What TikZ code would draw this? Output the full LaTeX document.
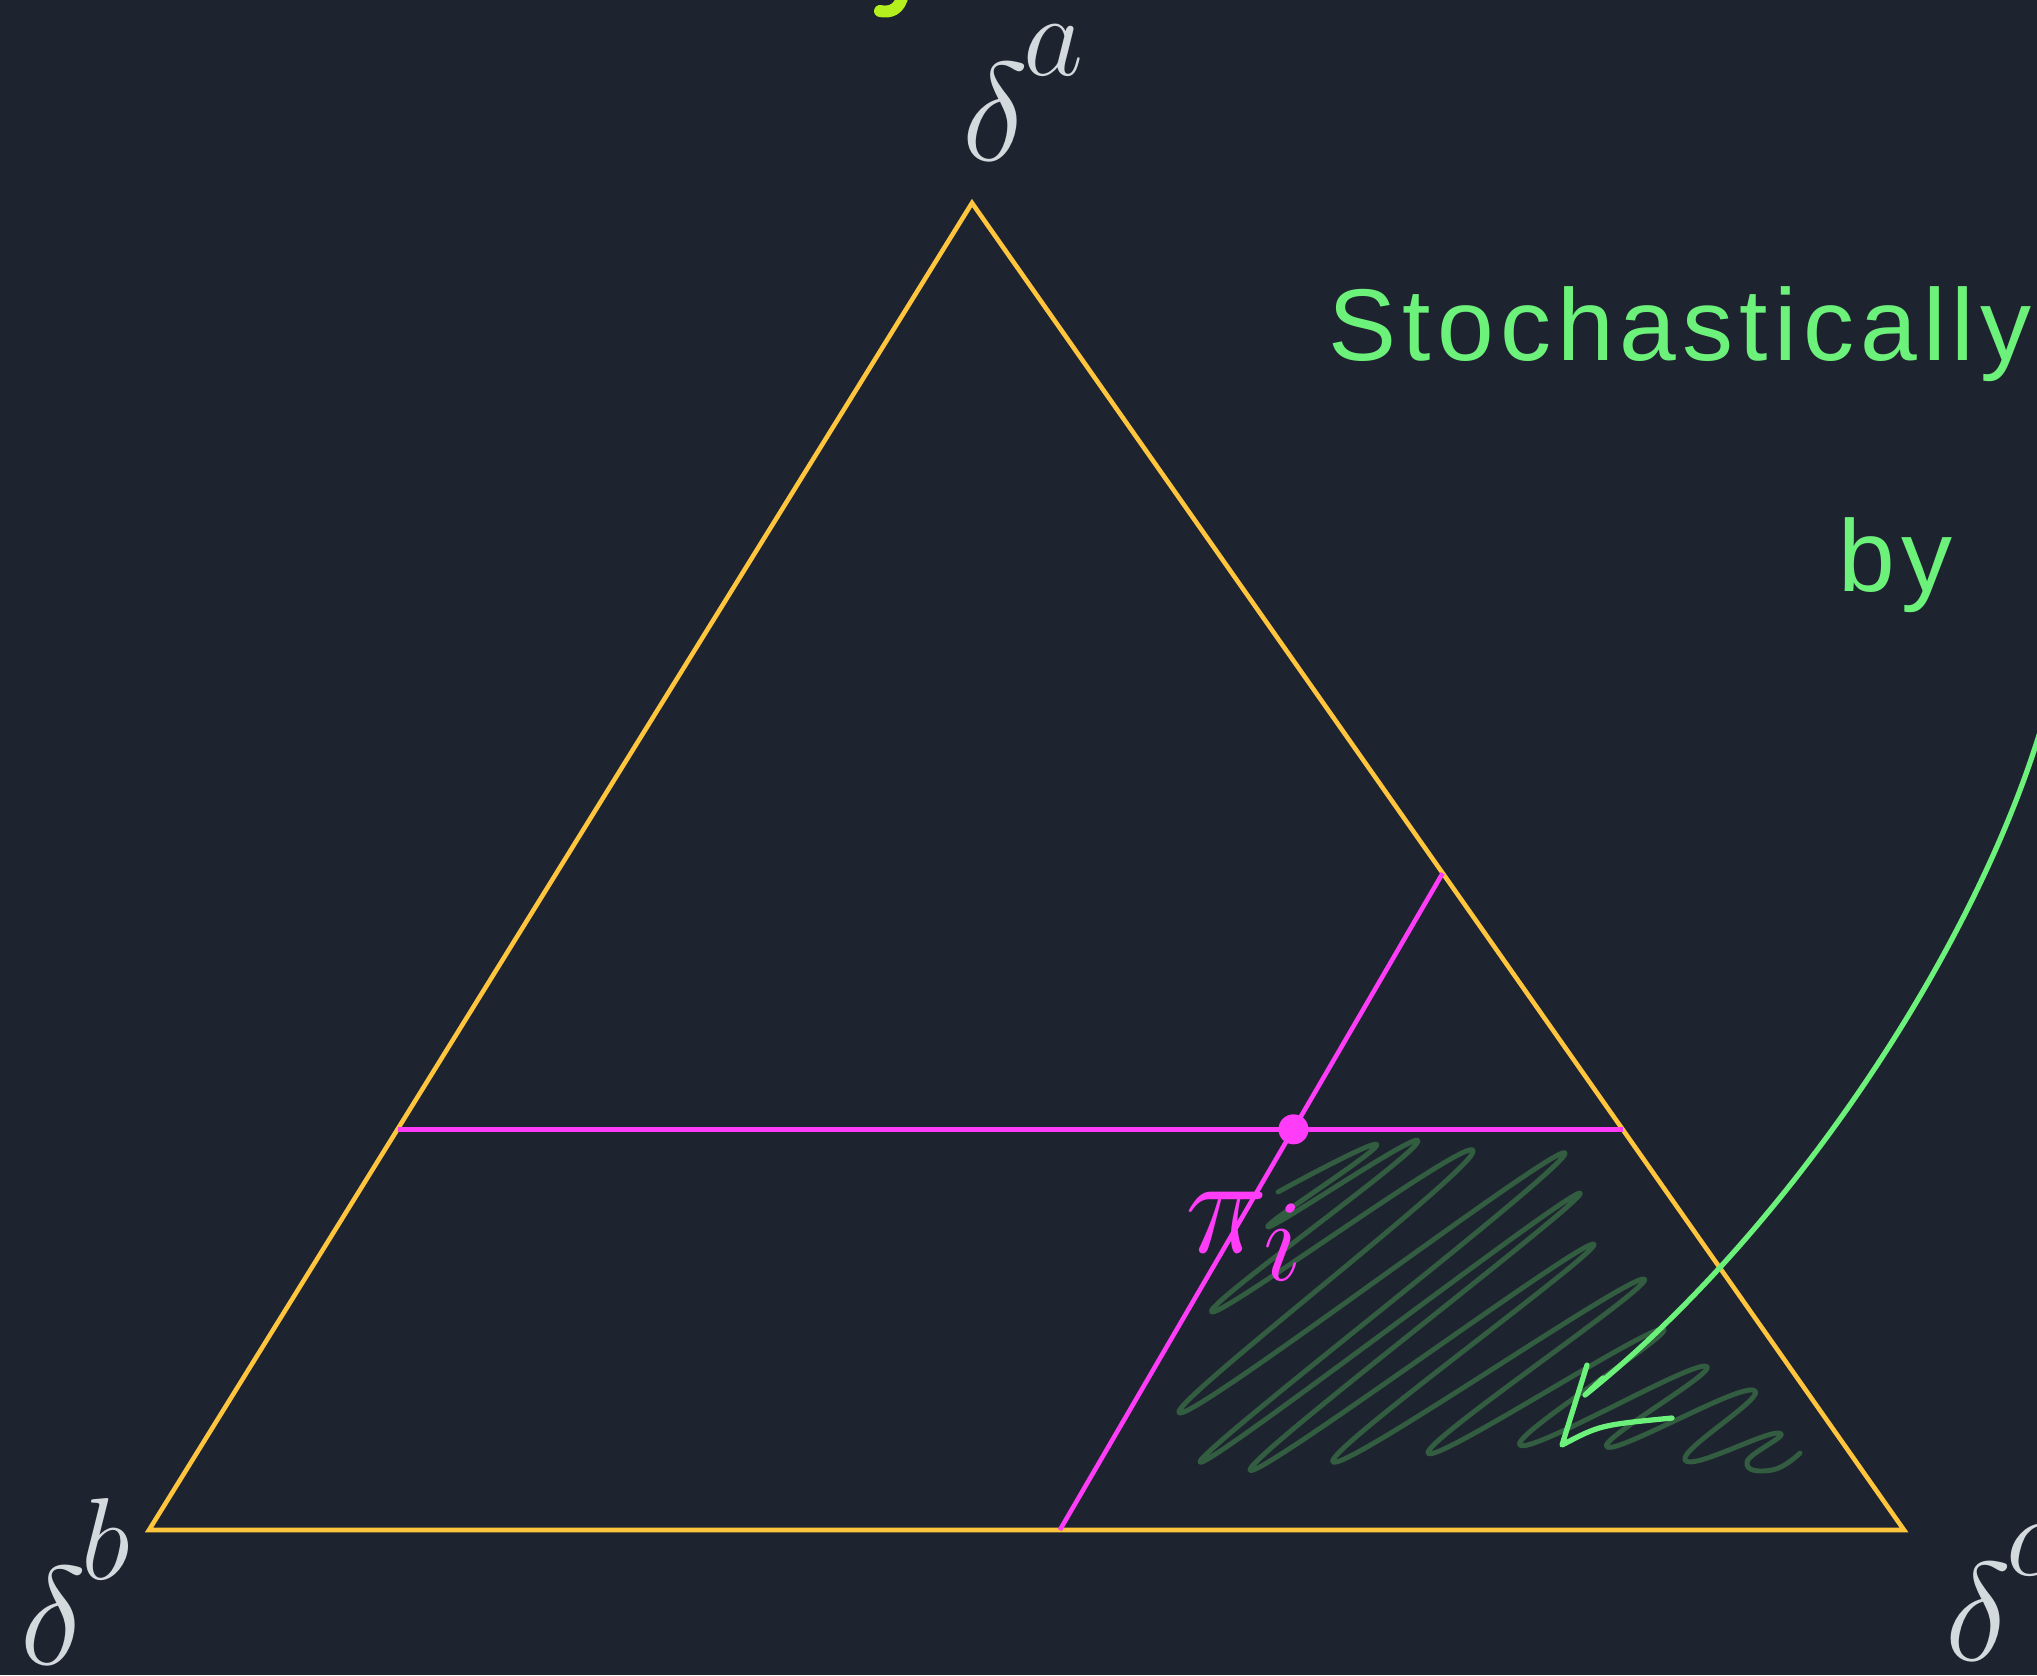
\documentclass[tikz,border=0pt]{standalone}
\usepackage{fontspec}
\newfontfamily\handfont[LetterSpace=6]{Liberation Sans}
\usetikzlibrary{calc,arrows.meta}
\definecolor{bgnavy}{HTML}{1E2330}
\definecolor{simplexgold}{HTML}{FFC53D}
\definecolor{cutpink}{HTML}{FF3CF8}
\definecolor{notegreen}{HTML}{6CF27A}
\definecolor{scribgreen}{HTML}{335D40}
\definecolor{labelgrey}{HTML}{D3DADD}
\definecolor{headlime}{HTML}{B4F01E}
\newcommand{\vtxlabel}[1]{\scalebox{1.6}{$\delta^{\kern-1pt\raisebox{6pt}{$\scriptstyle #1$}}$}}

\begin{document}
\begin{tikzpicture}[x=0.01cm, y=-0.01cm,
    edge/.style={simplexgold, line width=1.3pt},
    cut/.style={cutpink, line width=1.3pt},
    scrib/.style={scribgreen, line width=1.4pt, line cap=round, line join=round},
    note/.style={notegreen, line width=1.5pt, line cap=round, line join=round},
    vlbl/.style={labelgrey, inner sep=0pt, anchor=base west, font=\fontsize{24.88}{30}\selectfont},
    hand/.style={notegreen, inner sep=0pt, anchor=base west, font=\handfont\fontsize{29}{35}\selectfont}]

    \fill[bgnavy] (0,0) rectangle (2037,1675);
    \useasboundingbox (0,0) rectangle (2037,1675);
    \clip (0,0) rectangle (2037,1675);

    \draw[headlime, line width=3.4pt, line cap=round] (903,-6) .. controls (900,10) and (890,13) .. (880,11);

    \coordinate (va) at (972,203);
    \coordinate (vb) at (149,1530);
    \coordinate (vc) at (1904,1530);
    \draw[edge] (va) -- (vb) -- (vc) -- cycle;

    \draw[scrib] plot[smooth, tension=0.9] coordinates {(1278,1192) (1377,1145) (1268,1227) (1417,1143)
        (1212,1312) (1473,1152) (1180,1413) (1565,1153) (1200,1462) (1580,1193) (1250,1470) (1593,1244)
        (1333,1462) (1643,1279) (1428,1453) (1662,1329) (1520,1445) (1705,1366) (1607,1447) (1753,1390)
        (1685,1460) (1778,1433) (1747,1462) (1772,1470) (1800,1453)};

    \coordinate (hl) at ($(va)!0.698!(vb)$);
    \coordinate (hr) at ($(va)!0.698!(vc)$);
    \coordinate (sl) at ($(va)!0.505!(vc)$);
    \coordinate (sb) at ($(vb)!0.519!(vc)$);
    \draw[cut] (hl) -- (hr);
    \draw[cut] (sl) -- (sb);
    \coordinate (pt) at (intersection of hl--hr and sl--sb);
    \fill[cutpink] (pt) circle[radius=1.5mm];
    \node[vlbl, cutpink] (lblpi) at (1185,1252) {\scalebox{1.6}{$\pi_{i}$}};

    \node[vlbl] (lbla) at (962,160) {\vtxlabel{a}};
    \node[vlbl] (lblb) at (20,1664) {\vtxlabel{b}};
    \node[vlbl] (lblc) at (1945,1660) {\vtxlabel{c}};

    \node[hand] (noteA) at (1328,360) {Stochastically};
    \node[hand] (noteB) at (1838,591) {by};

    \coordinate (arrS) at (2045,715);
    \coordinate (arrE) at (1585,1395);
    \draw[note] (arrS) .. controls (1978,950) and (1785,1235) .. (arrE) -- ++(18,-17);
    \coordinate (tipU) at (1587,1365);
    \coordinate (tip) at (1562,1445);
    \coordinate (tipR) at (1672,1418);
    \draw[note] (tipU) -- (tip) .. controls (1600,1425) .. (tipR);
\end{tikzpicture}
\end{document}
